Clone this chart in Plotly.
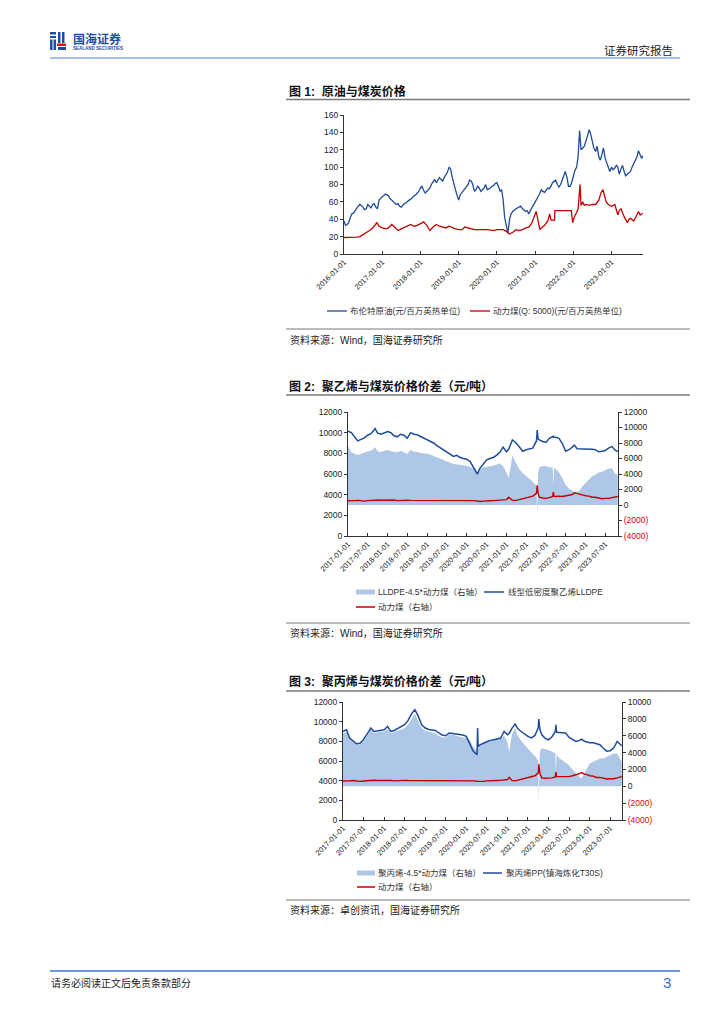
import plotly.graph_objects as go

W, H = 724, 1024
def px(x): return x / W
def py(y): return 1 - y / H

BLUE = "#1F4C97"
RED = "#C00000"
AREA = "#AFC7E6"
CJK = "Liberation Sans, Noto Sans CJK SC"

# ---------------- Chart 1 data: Brent (semi-monthly) and thermal coal ----------------
BRENT = [
    # 2016
    38, 33, 34, 36, 42, 46, 47, 50, 53, 55, 57, 56, 54, 51, 52, 57, 55, 53, 57, 58, 54, 52, 62, 64,
    # 2017
    66, 67, 69, 68, 67, 64, 62, 60, 59, 57, 58, 55, 54, 56, 58, 59, 61, 62, 63, 65, 67, 68, 70, 72,
    # 2018
    76, 78, 73, 70, 72, 74, 76, 80, 84, 86, 82, 85, 88, 86, 84, 88, 91, 94, 100, 98, 88, 80, 74, 68,
    # 2019
    62, 68, 71, 73, 75, 77, 80, 85, 84, 80, 72, 74, 78, 76, 72, 74, 76, 80, 74, 75, 76, 78, 79, 81,
    # 2020
    82, 78, 72, 74, 62, 42, 30, 24, 40, 46, 49, 51, 52, 53, 54, 55, 52, 50, 49, 50, 46, 50, 54, 57,
    # 2021
    60, 63, 66, 70, 74, 72, 71, 73, 76, 75, 78, 82, 84, 85, 80, 77, 80, 84, 90, 95, 88, 78, 78, 82,
    # 2022
    91, 96, 100, 112, 142, 120, 122, 124, 130, 135, 143, 138, 127, 122, 118, 124, 112, 108, 115, 122, 110, 105, 99, 95,
    # 2023 (Jan-Oct) + last
    100, 97, 99, 102, 100, 92, 98, 102, 95, 90, 92, 93, 95, 100, 104, 108, 112, 119, 114, 110, 113,
]
BRENT_DATES = [f"{y}-{m:02d}-{d:02d}" for y in range(2016, 2024) for m in range(1, 13) for d in (1, 15)]
BRENT_DATES = BRENT_DATES[:len(BRENT) - 1] + ["2023-10-25"]

COAL1_DATES = [
    "2016-01-01", "2016-03-01", "2016-05-01", "2016-06-01", "2016-07-01", "2016-08-01", "2016-09-01", "2016-10-01",
    "2016-11-10", "2016-12-01", "2016-12-15", "2017-01-01", "2017-02-01", "2017-03-01", "2017-04-01", "2017-05-01",
    "2017-06-01", "2017-07-01", "2017-08-01", "2017-09-01", "2017-10-01", "2017-11-01", "2017-12-01", "2018-01-01",
    "2018-02-01", "2018-03-01", "2018-04-01", "2018-05-01", "2018-06-01", "2018-07-01", "2018-08-01", "2018-09-01",
    "2018-10-01", "2018-11-01", "2018-12-01", "2019-01-01", "2019-02-01", "2019-03-01", "2019-04-01", "2019-05-01",
    "2019-06-01", "2019-08-01", "2019-10-01", "2019-12-01", "2020-01-01", "2020-03-01", "2020-04-01", "2020-05-01",
    "2020-06-01", "2020-07-01", "2020-08-01", "2020-09-01", "2020-10-01", "2020-11-01", "2020-12-01", "2021-01-10",
    "2021-02-01", "2021-02-15", "2021-03-01", "2021-04-01", "2021-05-01", "2021-05-20", "2021-06-01", "2021-07-05",
    "2021-07-08", "2021-12-12", "2021-12-25", "2022-01-10", "2022-02-01", "2022-02-15", "2022-03-05", "2022-03-15",
    "2022-04-01", "2022-04-15", "2022-05-01", "2022-06-01", "2022-07-01", "2022-08-01", "2022-09-01", "2022-09-20",
    "2022-10-10", "2022-10-25", "2022-11-10", "2022-12-01", "2023-01-01", "2023-02-01", "2023-03-01", "2023-03-15",
    "2023-04-01", "2023-05-01", "2023-06-01", "2023-06-15", "2023-07-01", "2023-08-01", "2023-09-01", "2023-09-15",
    "2023-10-01", "2023-10-25",
]
COAL1 = [
    19, 19, 19.5, 20, 22, 24, 27, 30,
    36, 32, 31, 30, 29, 30, 34, 31,
    27, 29, 31, 33, 34, 32, 33, 35,
    37, 33, 27, 31, 34, 32, 31, 30,
    32, 30, 29, 28, 28, 31, 30, 29,
    28, 28, 28, 27, 28, 28, 26, 23,
    25, 28, 27, 28, 30, 31, 36, 49,
    33, 28, 30, 33, 38, 46, 39, 39,
    50, 50, 36, 43, 48, 52, 80, 56,
    60, 56, 57, 56, 57, 57, 62, 70,
    74, 66, 60, 57, 55, 57, 45, 50,
    52, 43, 36, 40, 41, 38, 46, 49,
    45, 47,
]
C1_TICKS = [f"{y}-01-01" for y in range(2016, 2024)]

# ---------------- Chart 2 data: LLDPE ----------------
def monthly(y, months=range(1, 13)):
    return [f"{y}-{m:02d}-01" for m in months]

D2 = (monthly(2017, range(1, 9)) + ["2017-09-08"] + monthly(2017, range(10, 13))
      + monthly(2018) + monthly(2019)
      + monthly(2020, range(1, 4)) + ["2020-04-08"] + monthly(2020, range(5, 13))
      + ["2021-01-01", "2021-01-22", "2021-02-25", "2021-04-01", "2021-05-01", "2021-06-01", "2021-07-01",
         "2021-08-01", "2021-09-01", "2021-10-05", "2021-10-12", "2021-10-20", "2021-11-01", "2021-12-01"]
      + ["2022-01-01", "2022-02-01", "2022-03-04", "2022-03-10", "2022-03-16", "2022-04-01", "2022-05-01",
         "2022-06-01", "2022-07-01", "2022-08-01", "2022-09-01", "2022-09-20", "2022-10-15", "2022-11-01", "2022-12-01"]
      + monthly(2023, range(1, 11)) + ["2023-10-25"])
LLDPE = [
    10150, 10000, 9600, 9200, 9350, 9500, 9750, 9900, 10400, 9950, 9850, 9950,
    10100, 10000, 9700, 9600, 9850, 9750, 9450, 10000, 9850, 9800, 9650, 9500,
    9300, 9150, 9000, 8750, 8550, 8350, 8100, 7900, 7700, 7800, 7600, 7500,
    7430, 7200, 6700, 6000, 6550, 7000, 7350, 7500, 7600, 7800, 8100, 8600,
    8150, 8400, 9300, 9000, 8650, 8200, 8350, 8450, 8500, 9200, 10250, 9400, 9300, 9150,
    9050, 9450, 9600, 9650, 9550, 9550, 9450, 8950, 8200, 8350, 8600, 8800, 8450, 8450, 8450,
    8430, 8450, 8400, 8350, 8150, 8200, 8270, 8500, 8650, 8300, 8170,
]
PE_SPREAD = [
    7600, 6800, 6600, 6450, 6600, 6800, 6900, 7000, 7450, 6950, 6850, 7000,
    7100, 6950, 6900, 6800, 7000, 6800, 6600, 7100, 6900, 6850, 6700, 6650,
    6650, 6500, 6300, 6200, 6000, 5800, 5600, 5450, 5300, 5250, 5150, 5100,
    5050, 4900, 4700, 4100, 4700, 4850, 4950, 5000, 5050, 5200, 5350, 5000,
    4200, 3450, 6400, 5400, 4600, 4100, 3750, 3400, 3000, 2500, -1400, 4200, 4900, 5000,
    5000, 4900, 4800, 2400, 4800, 4600, 4200, 3500, 2600, 2100, 1900, 1600, 1700, 1800, 2400,
    2800, 3300, 3700, 3900, 4200, 4300, 4500, 4700, 4750, 4000, 3870,
]
COAL2 = [
    550, 520, 560, 600, 560, 500, 560, 600, 640, 650, 620, 640,
    680, 700, 640, 560, 600, 650, 620, 600, 600, 620, 600, 580,
    570, 570, 620, 600, 590, 570, 570, 570, 570, 560, 550, 550,
    560, 560, 560, 520, 460, 500, 560, 550, 570, 600, 620, 700,
    700, 1000, 620, 600, 700, 850, 950, 1000, 1150, 1500, 2550, 1500, 1000, 900,
    850, 950, 1100, 1650, 1150, 1100, 1150, 1100, 1150, 1250, 1350, 1580, 1450, 1400, 1300,
    1200, 1150, 1000, 1000, 900, 800, 850, 850, 950, 1050, 1100,
]

# ---------------- Chart 3 data: PP ----------------
D3 = (monthly(2017, range(1, 9)) + ["2017-09-05"] + monthly(2017, range(10, 13))
      + monthly(2018) + monthly(2019)
      + monthly(2020, range(1, 4)) + ["2020-04-05", "2020-04-10", "2020-04-15"] + monthly(2020, range(5, 13))
      + ["2021-01-01", "2021-01-15", "2021-02-10", "2021-03-10", "2021-04-01", "2021-05-01", "2021-06-01",
         "2021-07-01", "2021-08-01", "2021-09-01", "2021-10-01", "2021-10-05", "2021-10-15", "2021-11-01", "2021-12-01"]
      + ["2022-01-01", "2022-02-01", "2022-03-01", "2022-03-06", "2022-03-12", "2022-04-01", "2022-05-01",
         "2022-06-01", "2022-07-01", "2022-08-01", "2022-09-01", "2022-10-01", "2022-10-20", "2022-11-15", "2022-12-15"]
      + monthly(2023, range(1, 11)) + ["2023-10-12"])
PP = [
    9010, 9180, 8330, 7990, 7750, 7800, 8160, 8700, 9350, 9010, 9050, 9110,
    9180, 9520, 9010, 9100, 9300, 9450, 9690, 10100, 10800, 11220, 10540, 9690,
    9350, 9200, 9150, 9110, 8850, 8650, 8570, 8840, 8800, 8750, 8700, 8650,
    8500, 7700, 7000, 6630, 9350, 7480, 7650, 7800, 7990, 8100, 8160, 8250, 8330, 9010,
    8670, 8800, 9350, 9760, 9300, 9000, 8700, 8500, 8350, 8600, 9400, 10260, 9200, 8670, 8300,
    8160, 8500, 9000, 9690, 8910, 8900, 8850, 8840, 8400, 8200, 7990, 8100, 8230, 8000, 7890,
    7850, 7850, 7750, 7650, 7300, 7000, 7050, 7310, 7990, 7700, 7550,
]
PP_SPREAD = [
    6300, 6400, 5700, 5300, 5000, 4950, 5300, 5900, 6700, 6300, 6400, 6500,
    6500, 6800, 6300, 6500, 6600, 6700, 6900, 7300, 8000, 8600, 7700, 6900,
    6600, 6500, 6400, 6300, 6000, 5800, 5800, 6100, 6100, 6000, 5900, 5800,
    5800, 5500, 4700, 4200, 6600, 4800, 5000, 5200, 5400, 5500, 5600, 5600, 5600, 6000,
    5200, 4100, 6200, 6900, 6000, 5400, 4900, 4500, 4000, 3600, 3000, -2200, 4200, 4500, 4400,
    4300, 4100, 3900, 1500, 3800, 3400, 3100, 2800, 2500, 2000, 1500, 1100, 950, 1600, 2300,
    2700, 2900, 3100, 3300, 3300, 3500, 3700, 3900, 3900, 3200, 2900,
]
COAL3 = [
    620, 600, 640, 690, 640, 580, 620, 660, 700, 710, 690, 700,
    730, 760, 700, 640, 680, 710, 700, 680, 680, 690, 670, 650,
    640, 640, 690, 670, 660, 640, 640, 640, 640, 630, 620, 630,
    640, 640, 640, 600, 600, 600, 540, 580, 640, 630, 650, 680, 700, 780,
    800, 1070, 680, 650, 720, 800, 950, 1000, 1100, 1250, 1600, 2620, 1500, 1000, 950,
    950, 1000, 1100, 1700, 1150, 1150, 1150, 1100, 1150, 1250, 1350, 1500, 1630, 1450, 1350,
    1250, 1200, 1050, 1050, 950, 870, 900, 900, 1000, 1100, 1150,
]
HALF_TICKS = [f"{y}-{m}-01" for y in range(2017, 2024) for m in ("01", "07")]

RIGHT2_VALS = list(range(-4000, 12001, 2000))
RIGHT3_VALS = list(range(-4000, 10001, 2000))

def right_text(v):
    if v < 0:
        return f"<span style='color:#E8000B'>({-v})</span>"
    return str(v)

fig = go.Figure()
# chart 1
fig.add_trace(go.Scatter(x=BRENT_DATES, y=BRENT, mode="lines", name="布伦特原油(元/百万英热单位)",
                         line=dict(color=BLUE, width=1.3), xaxis="x", yaxis="y", showlegend=False))
fig.add_trace(go.Scatter(x=COAL1_DATES, y=COAL1, mode="lines", name="动力煤(Q: 5000)(元/百万英热单位)",
                         line=dict(color=RED, width=1.3), xaxis="x", yaxis="y", showlegend=False))
# chart 2 (base axis = right, overlay = left)
fig.add_trace(go.Scatter(x=D2, y=PE_SPREAD, mode="lines", fill="tozeroy", fillcolor=AREA,
                         line=dict(width=0, color=AREA), name="LLDPE-4.5*动力煤（右轴）",
                         xaxis="x2", yaxis="y2", showlegend=False))
fig.add_trace(go.Scatter(x=D2, y=COAL2, mode="lines", line=dict(color=RED, width=1.4),
                         name="动力煤（右轴）", xaxis="x2", yaxis="y2", showlegend=False))
fig.add_trace(go.Scatter(x=D2, y=LLDPE, mode="lines", line=dict(color=BLUE, width=1.5),
                         name="线型低密度聚乙烯LLDPE", xaxis="x2", yaxis="y3", showlegend=False))
# chart 3
fig.add_trace(go.Scatter(x=D3, y=PP_SPREAD, mode="lines", fill="tozeroy", fillcolor=AREA,
                         line=dict(width=0, color=AREA), name="聚丙烯-4.5*动力煤（右轴）",
                         xaxis="x3", yaxis="y4", showlegend=False))
fig.add_trace(go.Scatter(x=D3, y=COAL3, mode="lines", line=dict(color=RED, width=1.4),
                         name="动力煤（右轴）", xaxis="x3", yaxis="y4", showlegend=False))
fig.add_trace(go.Scatter(x=D3, y=PP, mode="lines", line=dict(color=BLUE, width=1.5),
                         name="聚丙烯PP(镇海炼化T30S)", xaxis="x3", yaxis="y5", showlegend=False))

TF_X = dict(family="Liberation Sans", size=7.5, color="#222")
TF_Y = dict(family="Liberation Sans", size=8.5, color="#222")
AX = dict(showgrid=False, zeroline=False, showline=True, linecolor="#333", linewidth=1,
          tickcolor="#333", ticklen=3, automargin=False)

xcommon = dict(AX, type="date", tickformat="%Y-%m-%d", tickangle=-45, ticks="inside", tickfont=TF_X)
fig.update_layout(
    xaxis=dict(xcommon, domain=[px(344), px(643)], anchor="y", range=["2016-01-01", "2023-10-28"],
               tickvals=C1_TICKS),
    yaxis=dict(AX, domain=[py(254), py(115)], anchor="x", range=[0, 160], dtick=20, ticks="outside",
               tickfont=TF_Y),
    xaxis2=dict(xcommon, domain=[px(348), px(618)], anchor="y2", range=["2017-01-01", "2023-10-27"],
                tickvals=HALF_TICKS),
    yaxis2=dict(AX, domain=[py(536), py(412)], anchor="x2", side="right", range=[-4000, 12000],
                tickvals=RIGHT2_VALS, ticktext=[right_text(v) for v in RIGHT2_VALS], ticks="outside",
                tickfont=TF_Y),
    yaxis3=dict(AX, overlaying="y2", anchor="x2", side="left", range=[0, 12000], dtick=2000,
                tickformat="d", ticks="outside", tickfont=TF_Y),
    xaxis3=dict(xcommon, domain=[px(343), px(622)], anchor="y4", range=["2017-01-01", "2023-10-14"],
                tickvals=HALF_TICKS),
    yaxis4=dict(AX, domain=[py(820), py(702)], anchor="x3", side="right", range=[-4000, 10000],
                tickvals=RIGHT3_VALS, ticktext=[right_text(v) for v in RIGHT3_VALS], ticks="outside",
                tickfont=TF_Y),
    yaxis5=dict(AX, overlaying="y4", anchor="x3", side="left", range=[0, 12000], dtick=2000,
                tickformat="d", ticks="outside", tickfont=TF_Y),
    width=W, height=H, margin=dict(l=0, r=0, t=0, b=0, pad=0, autoexpand=False),
    paper_bgcolor="white", plot_bgcolor="rgba(0,0,0,0)", showlegend=False,
)

shapes = []
def hline(x0, x1, y, color, width):
    shapes.append(dict(type="line", xref="paper", yref="paper", x0=px(x0), x1=px(x1), y0=py(y), y1=py(y),
                       line=dict(color=color, width=width)))
def rect(x0, x1, y0, y1, color):
    shapes.append(dict(type="rect", xref="paper", yref="paper", x0=px(x0), x1=px(x1), y0=py(y1), y1=py(y0),
                       fillcolor=color, line=dict(width=0)))

annotations = []
def text(x, y, s, size=9, color="#111", anchor="left", family=CJK):
    annotations.append(dict(xref="paper", yref="paper", x=px(x), y=py(y), text=s, showarrow=False,
                            xanchor=anchor, yanchor="middle", borderpad=0,
                            font=dict(family=family, size=size, color=color)))

# header
hline(50, 680, 58, "#8AADE0", 1.3)
LOGO_BLUE = "#1B4EA3"
rect(50, 56, 32, 34.5, LOGO_BLUE)
rect(50, 56, 36, 38, LOGO_BLUE)
rect(50, 52.5, 39.5, 50, LOGO_BLUE)
rect(53.5, 56, 39.5, 50, LOGO_BLUE)
rect(58, 60.5, 32, 43, LOGO_BLUE)
rect(62, 64.5, 32, 43, LOGO_BLUE)
rect(57, 66, 43.5, 46, "#D7141A")
rect(58, 66, 47, 50, LOGO_BLUE)
text(72, 38.5, "<b>国海证券</b>", size=12, color=LOGO_BLUE, family="Noto Sans CJK SC")
text(72, 48.5, "<b>SEALAND SECURITIES</b>", size=4.5, color=LOGO_BLUE, family="Liberation Sans")
text(674, 50, "证券研究报告", size=11.5, color="#222", anchor="right")

# chart 1 frame
text(288, 91, "<b>图 1:  原油与煤炭价格</b>", size=12, color="#111")
hline(286, 690, 99.5, "#7A7A7A", 1.3)
hline(327, 347, 311, BLUE, 1.3)
text(349, 311, "布伦特原油(元/百万英热单位)", size=8.5, color="#333")
hline(470, 490, 311, RED, 1.3)
text(492, 311, "动力煤(Q: 5000)(元/百万英热单位)", size=8.5, color="#333")
hline(286, 690, 329, "#555", 0.8)
text(289, 340, "资料来源：Wind，国海证券研究所", size=10, color="#222")

# chart 2 frame
text(288, 386, "<b>图 2:  聚乙烯与煤炭价格价差（元/吨）</b>", size=12, color="#111")
hline(286, 690, 395, "#7A7A7A", 1.3)
rect(356, 375, 589.5, 594.5, AREA)
text(377, 592, "LLDPE-4.5*动力煤（右轴）", size=8.5, color="#333")
hline(484, 504, 592, BLUE, 1.5)
text(507, 592, "线型低密度聚乙烯LLDPE", size=8.5, color="#333")
hline(356, 375, 607, RED, 1.5)
text(377, 607, "动力煤（右轴）", size=8.5, color="#333")
hline(286, 690, 623, "#555", 0.8)
text(289, 633, "资料来源：Wind，国海证券研究所", size=10, color="#222")

# chart 3 frame
text(288, 681, "<b>图 3:  聚丙烯与煤炭价格价差（元/吨）</b>", size=12, color="#111")
hline(286, 690, 691, "#7A7A7A", 1.3)
rect(357, 375, 870.5, 875.5, AREA)
text(377, 873, "聚丙烯-4.5*动力煤（右轴）", size=8.5, color="#333")
hline(483, 502, 873, BLUE, 1.5)
text(505, 873, "聚丙烯PP(镇海炼化T30S)", size=8.5, color="#333")
hline(357, 375, 887, RED, 1.5)
text(377, 887, "动力煤（右轴）", size=8.5, color="#333")
hline(286, 690, 900, "#555", 0.8)
text(289, 910, "资料来源：卓创资讯，国海证券研究所", size=10, color="#222")

# footer
hline(50, 680, 971, "#3A78D8", 1.3)
text(50, 983, "请务必阅读正文后免责条款部分", size=10, color="#222")
text(672, 982, "3", size=15, color="#2F6FD6", anchor="right", family="Liberation Sans")

fig.update_layout(shapes=shapes, annotations=annotations)
fig.write_html("out.html", config={"displayModeBar": False},
               post_script="document.body.style.margin='0px';")
